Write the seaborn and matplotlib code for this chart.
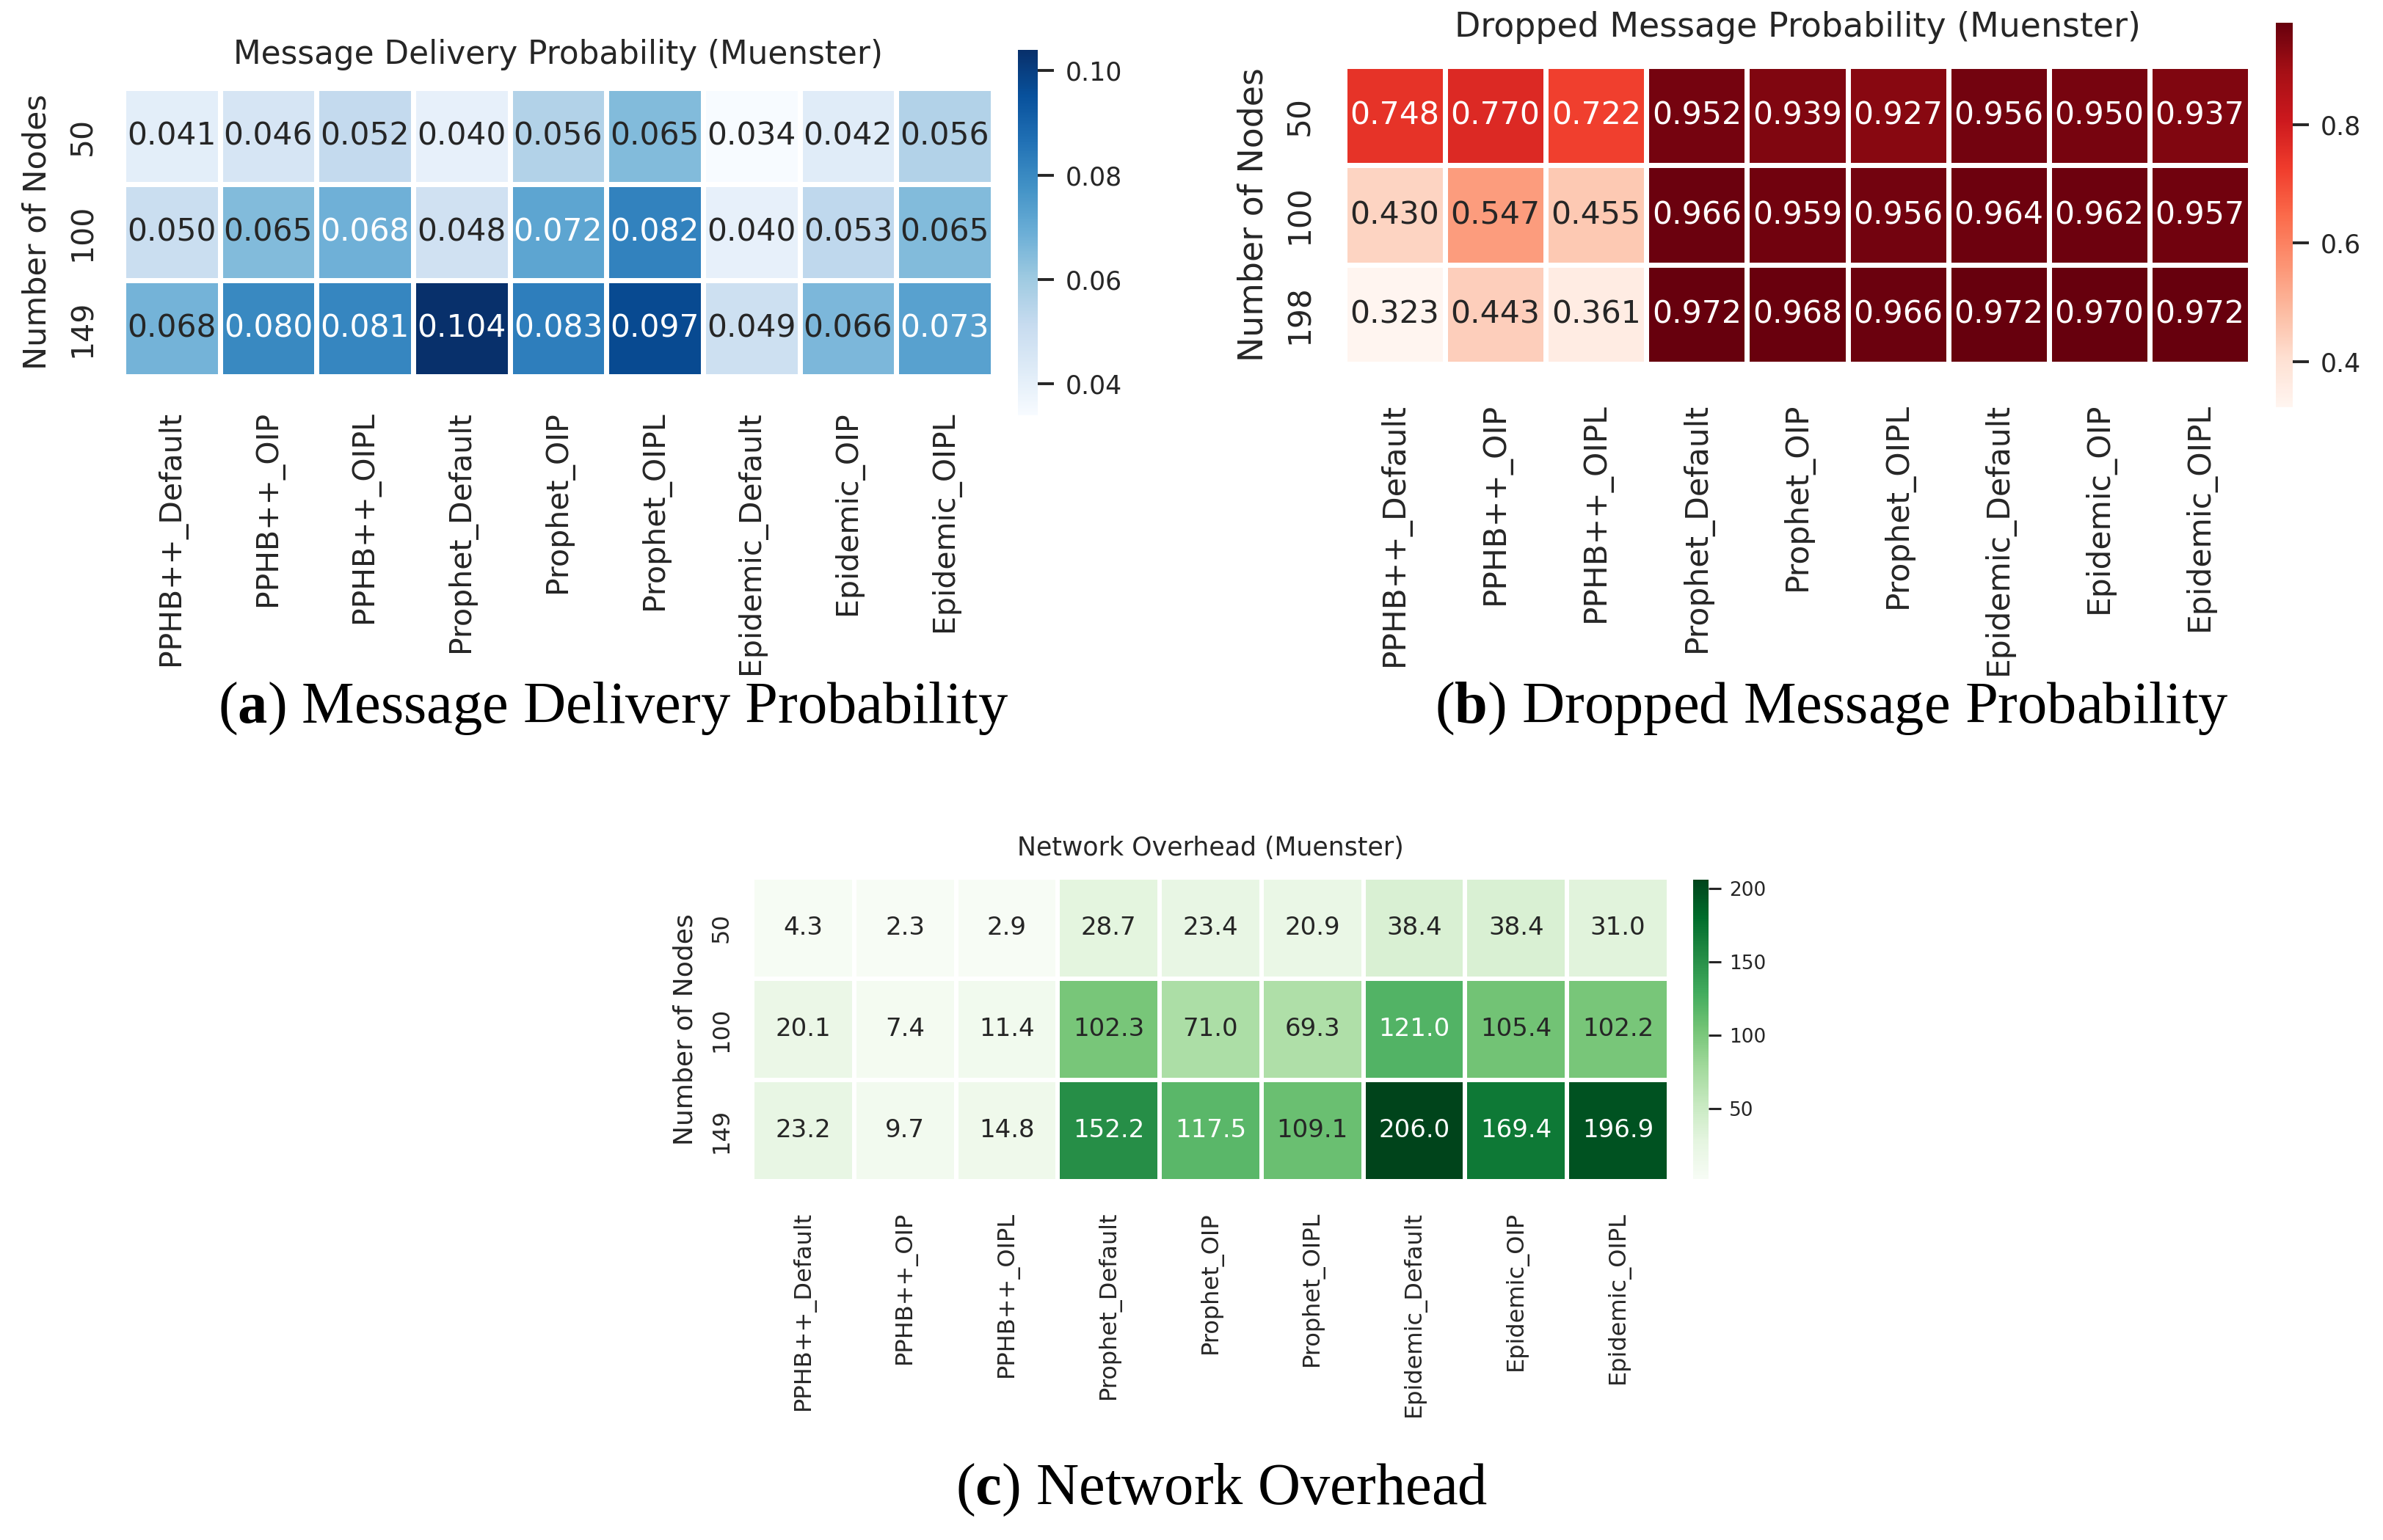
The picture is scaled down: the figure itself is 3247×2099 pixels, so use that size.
import numpy as np
import pandas as pd
import matplotlib
matplotlib.use("Agg")
import matplotlib.pyplot as plt
import seaborn as sns

# ---------------- data ----------------
protocols = ["PPHB++_Default", "PPHB++_OIP", "PPHB++_OIPL",
             "Prophet_Default", "Prophet_OIP", "Prophet_OIPL",
             "Epidemic_Default", "Epidemic_OIP", "Epidemic_OIPL"]

nodes_delivery = ["50", "100", "149"]
nodes_dropped = ["50", "100", "198"]
nodes_overhead = ["50", "100", "149"]

delivery_50 = [0.041, 0.046, 0.052, 0.040, 0.056, 0.065, 0.034, 0.042, 0.056]
delivery_100 = [0.050, 0.065, 0.0684, 0.048, 0.072, 0.082, 0.040, 0.053, 0.065]
delivery_149 = [0.0676, 0.080, 0.081, 0.104, 0.083, 0.097, 0.049, 0.066, 0.073]

dropped_50 = [0.748, 0.770, 0.722, 0.952, 0.939, 0.927, 0.956, 0.950, 0.937]
dropped_100 = [0.430, 0.547, 0.455, 0.966, 0.959, 0.956, 0.964, 0.962, 0.957]
dropped_198 = [0.323, 0.443, 0.361, 0.972, 0.968, 0.966, 0.972, 0.970, 0.972]

overhead_50 = [4.3, 2.3, 2.9, 28.7, 23.4, 20.9, 38.4, 38.4, 31.0]
overhead_100 = [20.1, 7.4, 11.4, 102.3, 71.0, 69.3, 121.0, 105.4, 102.2]
overhead_149 = [23.2, 9.7, 14.8, 152.2, 117.5, 109.1, 206.0, 169.4, 196.9]

cbar_ticks_delivery = [0.04, 0.06, 0.08, 0.10]
cbar_ticks_dropped = [0.4, 0.6, 0.8]
cbar_ticks_overhead = [50, 100, 150, 200]

titles = ["Message Delivery Probability (Muenster)",
          "Dropped Message Probability (Muenster)",
          "Network Overhead (Muenster)"]
captions = [r"($\mathbf{a}$) Message Delivery Probability",
            r"($\mathbf{b}$) Dropped Message Probability",
            r"($\mathbf{c}$) Network Overhead"]
ylabel_text = "Number of Nodes"

df_delivery = pd.DataFrame([delivery_50, delivery_100, delivery_149],
                           index=nodes_delivery, columns=protocols)
df_dropped = pd.DataFrame([dropped_50, dropped_100, dropped_198],
                          index=nodes_dropped, columns=protocols)
df_overhead = pd.DataFrame([overhead_50, overhead_100, overhead_149],
                           index=nodes_overhead, columns=protocols)

# ---------------- style ----------------
sns.set_theme(style="white")
plt.rcParams["font.family"] = ["DejaVu Sans"]
plt.rcParams["mathtext.fontset"] = "custom"
plt.rcParams["mathtext.rm"] = "Liberation Serif"
plt.rcParams["mathtext.bf"] = "Liberation Serif:bold"

W, H = 3248, 2099
fig = plt.figure(figsize=(W / 100, H / 100), dpi=100)


def px_axes(l, t, r, b):
    return fig.add_axes([l / W, 1 - b / H, (r - l) / W, (b - t) / H])


def panel(df, rows, cmap, fmt, box, cbox, title, title_y, cticks,
          annot_fs, tick_fs, label_fs, title_fs, cbar_fs, lw,
          xpad, ypad, ylabel_x, cb_len, cb_w, cb_pad):
    ax = px_axes(*box)
    cax = px_axes(*cbox)
    sns.heatmap(df, ax=ax, cbar_ax=cax, cmap=cmap, annot=True, fmt=fmt,
                linewidths=lw, linecolor="white",
                xticklabels=protocols, yticklabels=rows,
                annot_kws={"size": annot_fs},
                cbar_kws={"ticks": cticks})
    ax.set_xticklabels(protocols, rotation=90, fontsize=tick_fs,
                       ha="center", va="top")
    ax.set_yticklabels(rows, rotation=90, fontsize=tick_fs, va="center")
    ax.tick_params(axis="x", length=0, pad=xpad)
    ax.tick_params(axis="y", length=0, pad=ypad)
    ax.set_xlabel("")
    ax.set_ylabel(ylabel_text, fontsize=label_fs)
    l, t, r, b = box
    ax.yaxis.set_label_coords((ylabel_x - l) / (r - l), 0.5)
    ax.set_title(title, fontsize=title_fs,
                 y=(b - title_y) / (b - t), va="center")
    cax.tick_params(axis="y", right=True, length=cb_len, width=cb_w,
                    pad=cb_pad, labelsize=cbar_fs, color=".15")
    return ax


# (a) Message delivery probability
panel(df_delivery, nodes_delivery, "Blues", ".3f",
      box=(168, 120, 1353, 513), cbox=(1387, 68, 1414, 566),
      title=titles[0], title_y=83, cticks=cbar_ticks_delivery,
      annot_fs=30.5, tick_fs=29.5, label_fs=31, title_fs=31.5, cbar_fs=25,
      lw=5, xpad=34, ypad=25, ylabel_x=72, cb_len=16, cb_w=2.8, cb_pad=11)

# (b) Dropped message probability
panel(df_dropped, nodes_dropped, "Reds", ".3f",
      box=(1832, 90, 3066, 496), cbox=(3101, 31, 3124, 555),
      title=titles[1], title_y=46, cticks=cbar_ticks_dropped,
      annot_fs=30.7, tick_fs=30.5, label_fs=33, title_fs=33, cbar_fs=25,
      lw=5, xpad=38, ypad=29, ylabel_x=1731, cb_len=16, cb_w=2.8, cb_pad=11)

# (c) Network overhead
panel(df_overhead, nodes_overhead, "Greens", ".1f",
      box=(1025, 1196, 2274, 1610), cbox=(2307, 1199, 2328, 1607),
      title=titles[2], title_y=1164, cticks=cbar_ticks_overhead,
      annot_fs=24.5, tick_fs=23, label_fs=26, title_fs=25, cbar_fs=19,
      lw=3, xpad=29.5, ypad=19, ylabel_x=950, cb_len=12, cb_w=2.2, cb_pad=8)

# captions
cap_kw = dict(ha="center", va="center", fontsize=58,
              family="Liberation Serif", color="black")
fig.text(836 / W, 1 - 966 / H, captions[0], **cap_kw)
fig.text(2496 / W, 1 - 966 / H, captions[1], **cap_kw)
fig.text(1665 / W, 1 - 2031 / H, captions[2], **cap_kw)

fig.savefig("out.png", dpi=100, facecolor="white")
